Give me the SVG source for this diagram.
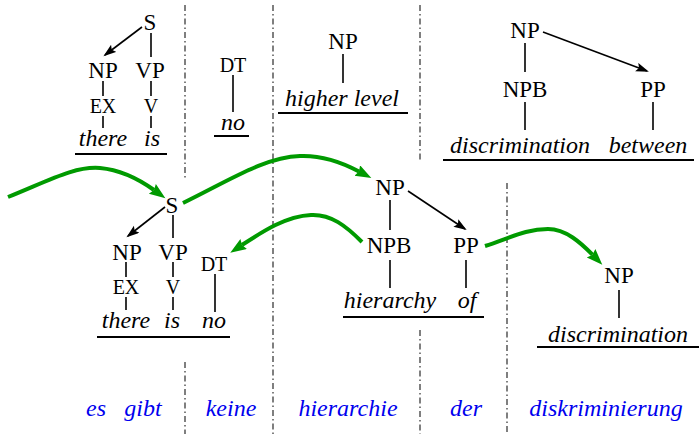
<svg xmlns="http://www.w3.org/2000/svg" width="699" height="434" viewBox="0 0 699 434" font-family="Liberation Serif, Tinos, Times New Roman, DejaVu Serif, serif">
<style>
  .lab { font-size: 23px; fill: #000; text-anchor: middle; }
  .sm { font-size: 20px; fill: #000; text-anchor: middle; }
  .w { font-size: 24px; font-style: italic; fill: #000; text-anchor: middle; }
  .de { font-size: 24px; font-style: italic; fill: #0000ee; text-anchor: middle; }
  .sep { stroke: #555; stroke-width: 1.5; stroke-dasharray: 6 3 1.5 3; fill: none; }
  .t { stroke: #000; stroke-width: 1.6; fill: none; }
  .ul { stroke: #000; stroke-width: 2; fill: none; }
  .ba { stroke: #000; stroke-width: 1.6; fill: none; marker-end: url(#bh); }
  .ga { stroke: #009a00; stroke-width: 4; fill: none; marker-end: url(#gh); }
</style>
<defs>
  <marker id="bh" markerUnits="userSpaceOnUse" markerWidth="14" markerHeight="10" refX="11" refY="4.5" orient="auto">
    <path d="M0,0 L13,4.5 L0,9 L2.5,4.5 z" fill="#000"/>
  </marker>
  <marker id="gh" markerUnits="userSpaceOnUse" markerWidth="18" markerHeight="13" refX="2" refY="6" orient="auto">
    <path d="M0,0 L16,6 L0,12 L2,6 z" fill="#009a00"/>
  </marker>
</defs>

<g id="separators">
  <line class="sep" x1="185" y1="5" x2="185" y2="178"/>
  <line class="sep" x1="185" y1="362" x2="185" y2="434"/>
  <line class="sep" x1="273" y1="5" x2="273" y2="434"/>
  <line class="sep" x1="420" y1="5" x2="420" y2="160"/>
  <line class="sep" x1="420" y1="330" x2="420" y2="434"/>
  <line class="sep" x1="507" y1="183" x2="507" y2="434"/>
</g>

<g id="connectors">
  <path class="ba" d="M142,27 L105,55"/>
  <line class="t" x1="151" y1="33" x2="151" y2="57"/>
  <line class="t" x1="103" y1="81" x2="103" y2="96"/>
  <line class="t" x1="151" y1="81" x2="151" y2="96"/>
  <line class="t" x1="103" y1="116" x2="103" y2="128"/>
  <line class="t" x1="151" y1="116" x2="151" y2="128"/>
  <line class="t" x1="233" y1="75" x2="233" y2="112"/>
  <line class="t" x1="343" y1="54" x2="343" y2="83"/>
  <path class="ba" d="M543,32 L647,71"/>
  <line class="t" x1="525" y1="43" x2="525" y2="72"/>
  <line class="t" x1="525" y1="102" x2="525" y2="130"/>
  <line class="t" x1="653" y1="102" x2="653" y2="130"/>
  <path class="ba" d="M165,207 L128,236"/>
  <line class="t" x1="173" y1="215" x2="173" y2="238"/>
  <line class="t" x1="126" y1="262" x2="126" y2="277"/>
  <line class="t" x1="173" y1="262" x2="173" y2="277"/>
  <line class="t" x1="126" y1="297" x2="126" y2="310"/>
  <line class="t" x1="173" y1="297" x2="173" y2="310"/>
  <line class="t" x1="215" y1="274" x2="215" y2="312"/>
  <path class="ba" d="M408,191 L465,229"/>
  <line class="t" x1="390" y1="200" x2="390" y2="230"/>
  <line class="t" x1="390" y1="260" x2="390" y2="288"/>
  <line class="t" x1="466" y1="260" x2="466" y2="288"/>
  <line class="t" x1="619" y1="290" x2="619" y2="318"/>
  <path class="ga" d="M8,197 C50,180 75,166 100,168 C122,170 140,180 154,190"/>
  <path class="ga" d="M183,203 C230,180 265,157 300,156 C325,155 345,164 359,171.5"/>
  <path class="ga" d="M362,242 C346,226 331,214 311,215 C286,216 262,232 242,245"/>
  <path class="ga" d="M485,246 C510,238 526,229 548,229 C566,229 581,243 592.5,254.7"/>
</g>

<g id="underlines">
  <line class="ul" x1="75" y1="154" x2="167" y2="154"/>
  <line class="ul" x1="214" y1="136" x2="249" y2="136"/>
  <line class="ul" x1="278" y1="113" x2="408" y2="113"/>
  <line class="ul" x1="443" y1="160" x2="694" y2="160"/>
  <line class="ul" x1="97" y1="337" x2="230" y2="337"/>
  <line class="ul" x1="343" y1="317" x2="484" y2="317"/>
  <line class="ul" x1="537" y1="347" x2="699" y2="347"/>
</g>

<g id="top-there-is">
  <g id="t1-S"><text class="lab" x="150" y="30">S</text></g>
  <g id="t1-NP"><text class="lab" x="103" y="78">NP</text></g>
  <g id="t1-VP"><text class="lab" x="150" y="78">VP</text></g>
  <g id="t1-EX"><text class="sm" x="103" y="113">EX</text></g>
  <g id="t1-V"><text class="sm" x="151" y="113">V</text></g>
  <g id="t1-there"><text class="w" x="103" y="146">there</text></g>
  <g id="t1-is"><text class="w" x="152" y="146">is</text></g>
</g>
<g id="top-no">
  <g id="t2-DT"><text class="sm" x="233" y="72">DT</text></g>
  <g id="t2-no"><text class="w" x="233" y="130">no</text></g>
</g>
<g id="top-higher-level">
  <g id="t3-NP"><text class="lab" x="343" y="49">NP</text></g>
  <g id="t3-words"><text class="w" x="342" y="106">higher level</text></g>
</g>
<g id="top-discrimination">
  <g id="t4-NP"><text class="lab" x="525" y="38">NP</text></g>
  <g id="t4-NPB"><text class="lab" x="525" y="97">NPB</text></g>
  <g id="t4-PP"><text class="lab" x="653" y="97">PP</text></g>
  <g id="t4-disc"><text class="w" x="520" y="153">discrimination</text></g>
  <g id="t4-between"><text class="w" x="648" y="153">between</text></g>
</g>

<g id="bottom-there-is-no">
  <g id="bA-S"><text class="lab" x="172" y="213">S</text></g>
  <g id="bA-NP"><text class="lab" x="127" y="260">NP</text></g>
  <g id="bA-VP"><text class="lab" x="173" y="260">VP</text></g>
  <g id="bA-EX"><text class="sm" x="126" y="294">EX</text></g>
  <g id="bA-V"><text class="sm" x="173" y="294">V</text></g>
  <g id="bA-DT"><text class="sm" x="214" y="271">DT</text></g>
  <g id="bA-there"><text class="w" x="126" y="328">there</text></g>
  <g id="bA-is"><text class="w" x="172" y="328">is</text></g>
  <g id="bA-no"><text class="w" x="214" y="328">no</text></g>
</g>
<g id="bottom-hierarchy-of">
  <g id="bB-NP"><text class="lab" x="390" y="195">NP</text></g>
  <g id="bB-NPB"><text class="lab" x="389" y="253">NPB</text></g>
  <g id="bB-PP"><text class="lab" x="466" y="253">PP</text></g>
  <g id="bB-hierarchy"><text class="w" x="390" y="308">hierarchy</text></g>
  <g id="bB-of"><text class="w" x="467" y="308">of</text></g>
</g>
<g id="bottom-discrimination">
  <g id="bC-NP"><text class="lab" x="619" y="283">NP</text></g>
  <g id="bC-disc"><text class="w" x="618" y="342">discrimination</text></g>
</g>

<g id="german">
  <g id="de-es"><text class="de" x="96" y="416">es</text></g>
  <g id="de-gibt"><text class="de" x="143" y="416">gibt</text></g>
  <g id="de-keine"><text class="de" x="231" y="416">keine</text></g>
  <g id="de-hierarchie"><text class="de" x="348" y="416">hierarchie</text></g>
  <g id="de-der"><text class="de" x="466" y="416">der</text></g>
  <g id="de-disk"><text class="de" x="606" y="416">diskriminierung</text></g>
</g>
</svg>
